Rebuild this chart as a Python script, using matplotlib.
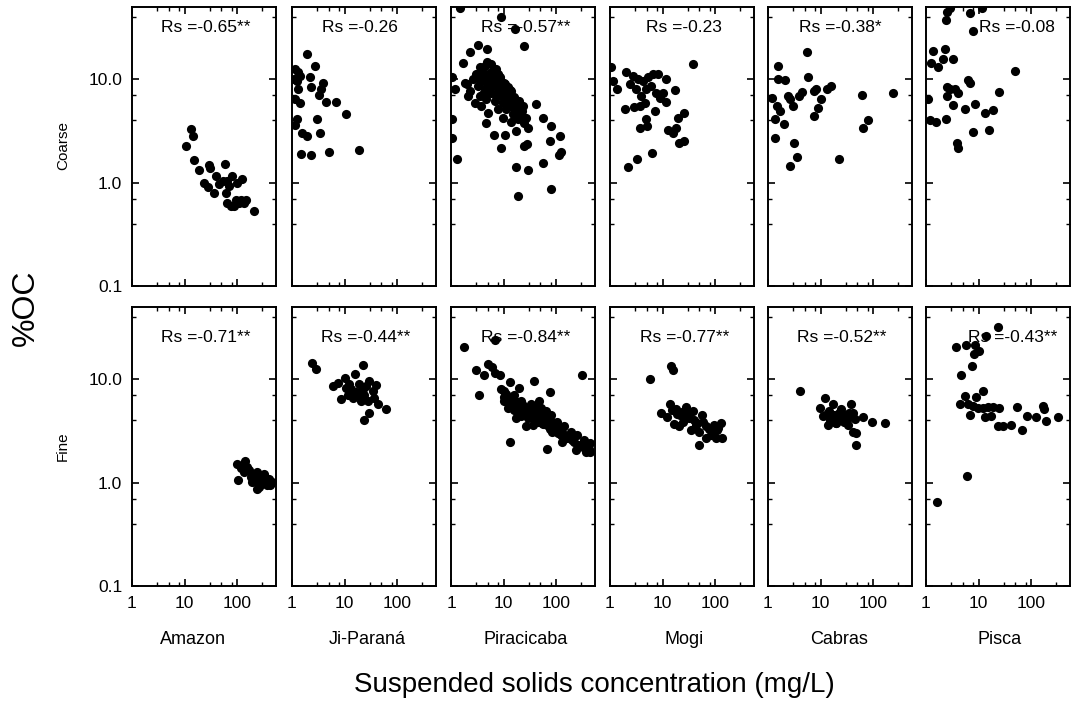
import matplotlib
matplotlib.use("Agg")
import matplotlib.pyplot as plt
from matplotlib.ticker import FixedLocator, NullFormatter

plt.rcParams['font.family'] = ['Liberation Sans', 'DejaVu Sans']

rivers = ["Amazon", "Ji-Paraná", "Piracicaba", "Mogi", "Cabras", "Pisca"]

# Coarse fraction: suspended solids (mg/L) vs %OC
amazon_coarse_ss = [10.8, 13.0, 14.3, 15.0, 19.2, 23.9, 27.5, 29.6, 30.5, 36.8,
                    39.6, 45.5, 54.6, 59.5, 61.2, 65.4, 70.8, 65.4, 75.9, 81.5,
                    87.7, 94.6, 101, 108.6, 117, 125, 135, 146, 209]
amazon_coarse_oc = [2.25, 3.3, 2.8, 1.65, 1.32, 1.0, 0.90, 1.47, 1.39, 0.80,
                    1.15, 0.96, 1.03, 1.53, 0.79, 1.03, 0.92, 0.64, 0.59, 1.15,
                    0.59, 0.68, 1.0, 0.64, 0.68, 1.08, 0.64, 0.68, 0.53]

jiparana_coarse_ss = [1.94, 1.14, 1.30, 1.42, 1.09, 1.24, 2.19, 2.72, 3.9, 2.25,
                      1.31, 3.63, 3.27, 1.14, 1.42, 4.38, 6.76, 10.8, 1.23, 1.14,
                      3.0, 1.52, 1.94, 3.48, 1.46, 2.25, 5.05, 18.6]
jiparana_coarse_oc = [17.7, 12.5, 11.7, 10.7, 10.0, 9.6, 10.4, 13.5, 9.3, 8.5,
                      8.1, 8.0, 7.1, 6.4, 5.9, 6.0, 6.0, 4.57, 4.17, 3.65,
                      4.15, 3.03, 2.81, 3.03, 1.91, 1.87, 1.99, 2.06]

piracicaba_coarse_ss = [1.98, 2.28, 2.64, 3.05, 3.28, 3.52, 3.79, 4.07, 4.38, 4.71,
                        5.06, 5.44, 5.85, 6.29, 6.76, 7.27, 7.82, 8.4, 9.0, 9.7,
                        10.4, 11.2, 12.1, 13.0, 14.0, 15.0, 16.1, 17.3, 18.6, 20.0,
                        21.5, 23.2, 24.9, 26.8, 2.84, 3.79, 5.06, 7.82, 9.7, 14.0,
                        5.85, 7.82, 10.4, 14.0, 6.76, 4.38, 3.52, 5.44, 11.2, 7.27,
                        2.12, 1.84,
                        3.5, 4.2, 4.8, 5.5, 6.2, 7.0, 8.0, 9.2, 10.5, 12.0,
                        13.5, 15.5, 4.0, 5.0, 6.0, 7.5, 9.0, 11.0, 13.0, 16.0,
                        19.0, 22.0, 6.5, 8.5, 12.5,
                        1.48, 9.0, 16.6, 24.9, 3.28, 2.28, 4.85, 1.71, 4.85, 1.03,
                        1.19, 41.3, 55.2, 79.3, 119, 1.03, 1.03, 1.28, 4.71, 6.57,
                        10.7, 9.0, 17.3, 28.8, 24.9, 28, 77, 114, 122, 55.2,
                        17.3, 29.6, 19.2, 81.7]
piracicaba_coarse_oc = [8.9, 7.7, 10.0, 11.2, 8.6, 6.9, 9.6, 11.6, 8.0, 6.4,
                        10.4, 8.9, 7.4, 12.0, 9.6, 12.5, 8.3, 10.0, 6.9, 5.9,
                        8.0, 5.1, 6.4, 7.1, 5.5, 4.6, 5.9, 5.1, 4.1, 6.2,
                        4.7, 5.5, 3.8, 4.2, 5.9, 5.5, 4.7, 5.1, 4.2, 3.9,
                        14.0, 11.2, 9.3, 7.7, 6.2, 13.5, 13.0, 8.3, 7.1, 7.1,
                        6.9, 9.3,
                        9.8, 10.8, 9.0, 11.5, 10.2, 9.5, 11.0, 8.8, 9.0, 8.4,
                        7.8, 6.8, 7.2, 7.6, 8.6, 9.0, 7.8, 6.8, 6.0, 6.5,
                        5.4, 4.9, 11.0, 10.6, 5.6,
                        48.5, 39.7, 30.6, 21.1, 21.5, 18.2, 19.5, 14.5, 14.7, 10.6,
                        8.0, 5.7, 4.2, 3.5, 2.8, 4.1, 2.7, 1.70, 3.8, 2.9,
                        2.86, 2.17, 3.15, 3.4, 2.25, 2.34, 2.52, 1.87, 1.97, 1.55,
                        1.42, 1.32, 0.75, 0.87]

mogi_coarse_ss = [1.03, 1.16, 1.37, 2.0, 2.45, 2.75, 3.43, 4.26, 5.29, 6.57,
                  8.17, 11.4, 3.19, 3.96, 4.92, 6.11, 7.6, 8.77, 10.1, 11.4,
                  1.92, 2.84, 3.68, 4.57, 7.06, 17.6, 38.5, 3.68, 4.78, 5.06,
                  12.6, 15.7, 18.1, 19.5, 26, 20.9, 26, 2.22, 3.28, 6.38]
mogi_coarse_oc = [13.0, 9.6, 8.1, 11.8, 8.9, 10.8, 10.1, 9.6, 10.4, 11.2,
                  11.2, 10.0, 8.0, 6.9, 8.0, 8.7, 7.4, 6.6, 7.4, 6.0,
                  5.1, 5.4, 5.5, 5.9, 4.93, 7.9, 13.9, 3.4, 4.1, 3.5,
                  3.2, 3.0, 3.4, 4.2, 4.7, 2.43, 2.52, 1.42, 1.70, 1.94]

cabras_coarse_ss = [1.57, 5.52, 5.77, 1.57, 2.09, 1.17, 1.46, 1.68, 1.36, 2.0,
                    1.36, 2.42, 2.6, 3.0, 3.9, 4.51, 7.38, 8.28, 10.3, 8.9,
                    7.38, 13.2, 15.9, 3.1, 3.57, 2.6, 22.2, 61, 238, 81.7,
                    64.8]
cabras_coarse_oc = [13.5, 18.2, 10.6, 10.0, 9.8, 6.6, 5.5, 4.93, 4.1, 3.66,
                    2.7, 6.9, 6.4, 5.5, 6.9, 7.5, 7.7, 8.0, 6.5, 5.3,
                    4.4, 8.0, 8.7, 2.43, 1.78, 1.44, 1.70, 7.0, 7.3, 4.03,
                    3.4]

pisca_coarse_ss = [2.53, 2.38, 6.76, 11.7, 2.92, 7.82, 1.37, 2.28, 1.22, 1.71,
                   2.12, 3.28, 49.9, 6.3, 6.76, 1.11, 2.53, 2.92, 3.52, 4.07,
                   2.53, 3.28, 5.44, 8.4, 13.0, 19.2, 24.2, 1.19, 1.55, 2.45,
                   7.82, 15.5, 3.96, 4.02]
pisca_coarse_oc = [44.4, 37.7, 43.7, 48.5, 48.5, 29.5, 18.8, 19.5, 14.3, 13.0,
                   15.6, 15.6, 12.0, 9.8, 9.3, 6.5, 8.5, 8.0, 8.1, 7.3,
                   6.9, 5.6, 5.2, 5.8, 4.7, 5.0, 7.5, 4.03, 3.85, 4.15,
                   3.08, 3.2, 2.43, 2.17]

# Fine fraction
amazon_fine_ss = [104, 101, 140, 117, 168, 209, 242, 280, 323, 347,
                  402, 464, 260, 225, 181, 136, 301, 373, 157, 195,
                  432, 242, 120, 150, 200, 230, 270, 310, 350, 390,
                  420, 450]
amazon_fine_oc = [1.07, 1.51, 1.61, 1.37, 1.32, 1.18, 1.27, 0.98, 1.22, 1.05,
                  1.09, 1.02, 0.91, 1.03, 1.14, 1.27, 1.05, 0.94, 1.42, 1.02,
                  0.98, 0.87, 1.45, 1.35, 1.2, 1.12, 1.1, 1.0, 1.0, 1.05,
                  0.95, 1.0]

jiparana_fine_ss = [2.42, 2.92, 22.2, 15.5, 10, 6.03, 8.65, 10.7, 12.4, 16.6,
                    19.2, 23.8, 25.6, 29.6, 39.6, 34.2, 42.6, 61.1, 29.6, 23.8,
                    14.4, 20.6, 27.6, 17.9, 7.5, 11.6, 13.4, 22.2, 36.8]
jiparana_fine_oc = [14.5, 12.5, 13.6, 11.3, 10.3, 8.6, 6.5, 8.3, 9.0, 7.6,
                    8.9, 7.1, 8.6, 9.6, 8.8, 7.7, 5.8, 5.1, 4.7, 4.06,
                    6.6, 6.2, 6.1, 7.1, 9.2, 7.1, 8.0, 8.0, 6.6]

piracicaba_fine_ss = [1.79, 6.97, 2.96, 3.43, 4.26, 5.06, 6.03, 6.97, 8.4, 13.0,
                      20.0, 38.5, 77, 314,
                      10.4, 12.1, 14.0, 16.1, 18.6, 21.5, 24.9, 28.8, 33.3, 38.5,
                      44.4, 51.4, 59.4, 68.6, 79.3, 91.6, 106, 122, 142, 164,
                      189, 219, 253, 292, 337, 390, 451, 12.1, 17.3, 26.8,
                      47.8, 63.8, 85.3, 132, 235, 363, 451, 14.0, 21.5, 35.7,
                      41.3, 10.4,
                      9, 11, 13, 15, 17, 19, 22, 26, 30, 35,
                      40, 46, 55, 65, 75, 90, 110, 130, 160, 200,
                      260, 320, 420,
                      10, 11.5, 13, 14.5, 16, 18, 20, 23, 27, 31,
                      36, 42, 48, 56, 62, 72, 85, 100, 115,
                      13.4, 65.8]
piracicaba_fine_oc = [20.6, 23.9, 12.2, 7.1, 11.1, 14.2, 13.1, 11.6, 11.0, 9.5,
                      8.3, 9.7, 7.6, 11.1,
                      7.7, 6.6, 5.7, 7.1, 4.9, 6.1, 5.3, 4.2, 5.7, 4.7,
                      3.9, 5.3, 4.2, 3.6, 4.5, 3.24, 3.9, 2.9, 3.5, 2.69,
                      3.12, 2.49, 2.9, 2.31, 2.59, 2.15, 2.4, 5.3, 4.2, 3.5,
                      6.1, 4.9, 3.12, 2.49, 2.07, 1.99, 1.99, 6.6, 4.4, 3.6,
                      5.5, 6.1,
                      8.0, 7.2, 6.2, 6.5, 5.5, 5.2, 5.8, 4.8, 4.4, 4.3,
                      4.6, 4.0, 3.8, 4.0, 3.3, 3.5, 3.0, 3.1, 2.8, 2.6,
                      2.3, 2.2, 2.1,
                      6.8, 6.0, 5.4, 6.4, 5.0, 6.0, 4.6, 5.5, 4.9, 5.0,
                      4.2, 4.8, 4.5, 3.7, 4.2, 3.8, 3.9, 3.4, 3.0,
                      2.46, 2.11]

mogi_fine_ss = [5.85, 14.6, 16.1, 9.4, 12.1, 14.0, 16.8, 18.1, 21.5, 28,
                32.3, 37.4, 43.1, 56, 66.7, 48.5, 82.8, 95.7, 128, 134,
                103, 66.7, 24.2, 34.8, 49.9, 82.8, 20.9, 30.1, 111,
                15, 19, 23, 26, 40, 45, 60, 75, 90, 115]
mogi_fine_oc = [10.0, 13.4, 12.2, 4.7, 4.27, 5.8, 3.68, 5.1, 4.5, 5.35,
                4.2, 4.9, 3.6, 4.5, 3.5, 2.31, 3.24, 3.6, 3.76, 2.73,
                2.69, 2.69, 3.9, 3.24, 3.12, 2.9, 3.5, 4.7, 3.24,
                5.0, 4.6, 4.8, 4.2, 4.0, 3.8, 3.9, 3.3, 3.1, 3.4]

cabras_fine_ss = [4.02, 9.57, 12.4, 17.1, 11.1, 13.7, 17.1, 22.8, 28.4, 40.7,
                  24.2, 28.4, 30.5, 35.3, 37.9, 45.7, 47.1, 47.1, 63, 97,
                  168, 26.4, 40.7, 32.8, 14.8, 19.8,
                  13, 15, 18, 20, 22, 26, 30, 34]
cabras_fine_oc = [7.7, 5.3, 6.6, 5.7, 4.4, 3.6, 4.2, 4.7, 3.9, 4.7,
                  5.1, 4.5, 3.9, 4.7, 5.8, 4.15, 3.0, 2.31, 4.27, 3.9,
                  3.76, 4.06, 3.12, 4.2, 4.9, 3.76,
                  4.6, 4.0, 4.5, 3.8, 4.3, 4.0, 4.4, 3.6]

pisca_fine_ss = [1.64, 6.11, 3.68, 5.69, 8.4, 10.4, 8.17, 14.0, 23.2, 7.6,
                 4.71, 12.1, 5.44, 9.0, 4.51, 6.76, 6.3, 7.82, 9.7, 12.1,
                 15.0, 18.6, 24.2, 13.0, 23.2, 28.8, 41.3, 52.8, 68.6, 85.3,
                 122, 168, 176, 195, 328, 17.3]
pisca_fine_oc = [0.65, 1.15, 20.6, 21.4, 21.5, 18.8, 17.7, 26.4, 31.8, 13.4,
                 11.0, 7.7, 6.9, 6.7, 5.8, 4.5, 5.7, 5.5, 5.3, 5.3,
                 5.35, 5.35, 5.3, 4.27, 3.5, 3.5, 3.6, 5.35, 3.24, 4.4,
                 4.27, 5.5, 5.1, 3.97, 4.27, 4.4]

coarse_rs = ["Rs =-0.65**", "Rs =-0.26", "Rs =-0.57**", "Rs =-0.23", "Rs =-0.38*", "Rs =-0.08"]
fine_rs = ["Rs =-0.71**", "Rs =-0.44**", "Rs =-0.84**", "Rs =-0.77**", "Rs =-0.52**", "Rs =-0.43**"]

coarse = [(amazon_coarse_ss, amazon_coarse_oc), (jiparana_coarse_ss, jiparana_coarse_oc),
          (piracicaba_coarse_ss, piracicaba_coarse_oc), (mogi_coarse_ss, mogi_coarse_oc),
          (cabras_coarse_ss, cabras_coarse_oc), (pisca_coarse_ss, pisca_coarse_oc)]
fine = [(amazon_fine_ss, amazon_fine_oc), (jiparana_fine_ss, jiparana_fine_oc),
        (piracicaba_fine_ss, piracicaba_fine_oc), (mogi_fine_ss, mogi_fine_oc),
        (cabras_fine_ss, cabras_fine_oc), (pisca_fine_ss, pisca_fine_oc)]

W, H = 1073, 702
fig = plt.figure(figsize=(W / 100, H / 100), dpi=100)

lefts = [132, 292, 451, 610, 768, 926]
pw = 144
rows = [(7, 286), (307, 586)]
coarse_txt_x = [0.51, 0.47, 0.52, 0.51, 0.50, 0.63]
fine_txt_x = [0.51, 0.51, 0.52, 0.52, 0.51, 0.60]
row_txt_y = [1 - 20 / 279, 1 - 30 / 279]


def setup(ax, show_x, show_y):
    ax.set_xscale('log')
    ax.set_yscale('log')
    ax.set_xlim(1, 550)
    ax.set_ylim(0.1, 50)
    ax.xaxis.set_major_locator(FixedLocator([1, 10, 100]))
    ax.xaxis.set_minor_locator(FixedLocator([3, 5, 8, 30, 50, 80, 300]))
    ax.yaxis.set_major_locator(FixedLocator([0.1, 1, 10]))
    ax.yaxis.set_minor_locator(FixedLocator([0.4, 0.7, 4, 7, 40]))
    ax.xaxis.set_minor_formatter(NullFormatter())
    ax.yaxis.set_minor_formatter(NullFormatter())
    if show_x:
        ax.set_xticklabels(['1', '10', '100'])
    else:
        ax.set_xticklabels([])
    if show_y:
        ax.set_yticklabels(['0.1', '1.0', '10.0'])
    else:
        ax.set_yticklabels([])
    ax.tick_params(which='both', direction='in', top=True, right=True, labelsize=12.5)
    ax.tick_params(which='major', length=5, width=1.2, pad=7)
    ax.tick_params(which='minor', length=3, width=1)
    for s in ax.spines.values():
        s.set_linewidth(1.4)


for r, (top, bot) in enumerate(rows):
    data = coarse if r == 0 else fine
    rs = coarse_rs if r == 0 else fine_rs
    txt_x = coarse_txt_x if r == 0 else fine_txt_x
    for c in range(6):
        ax = fig.add_axes([lefts[c] / W, 1 - bot / H, pw / W, (bot - top) / H])
        ss, oc = data[c]
        ax.plot(ss, oc, 'o', color='black', ms=6.6, mew=0)
        setup(ax, r == 1, c == 0)
        ax.text(txt_x[c], row_txt_y[r], rs[c], transform=ax.transAxes,
                ha='center', va='center', fontsize=12.5)

fig.text(63 / W, 1 - 146 / H, "Coarse", rotation=90, ha='center', va='center', fontsize=11)
fig.text(63 / W, 1 - 446 / H, "Fine", rotation=90, ha='center', va='center', fontsize=11)
fig.text(26 / W, 1 - 308 / H, "%OC", rotation=90, ha='center', va='center', fontsize=23)

label_x = [193, 367, 526, 684, 839, 1000]
for name, x in zip(rivers, label_x):
    fig.text(x / W, 1 - 640 / H, name, ha='center', va='center', fontsize=13)
fig.text(594 / W, 1 - 685 / H, "Suspended solids concentration (mg/L)",
         ha='center', va='center', fontsize=20)

fig.savefig("out.png", dpi=100)
